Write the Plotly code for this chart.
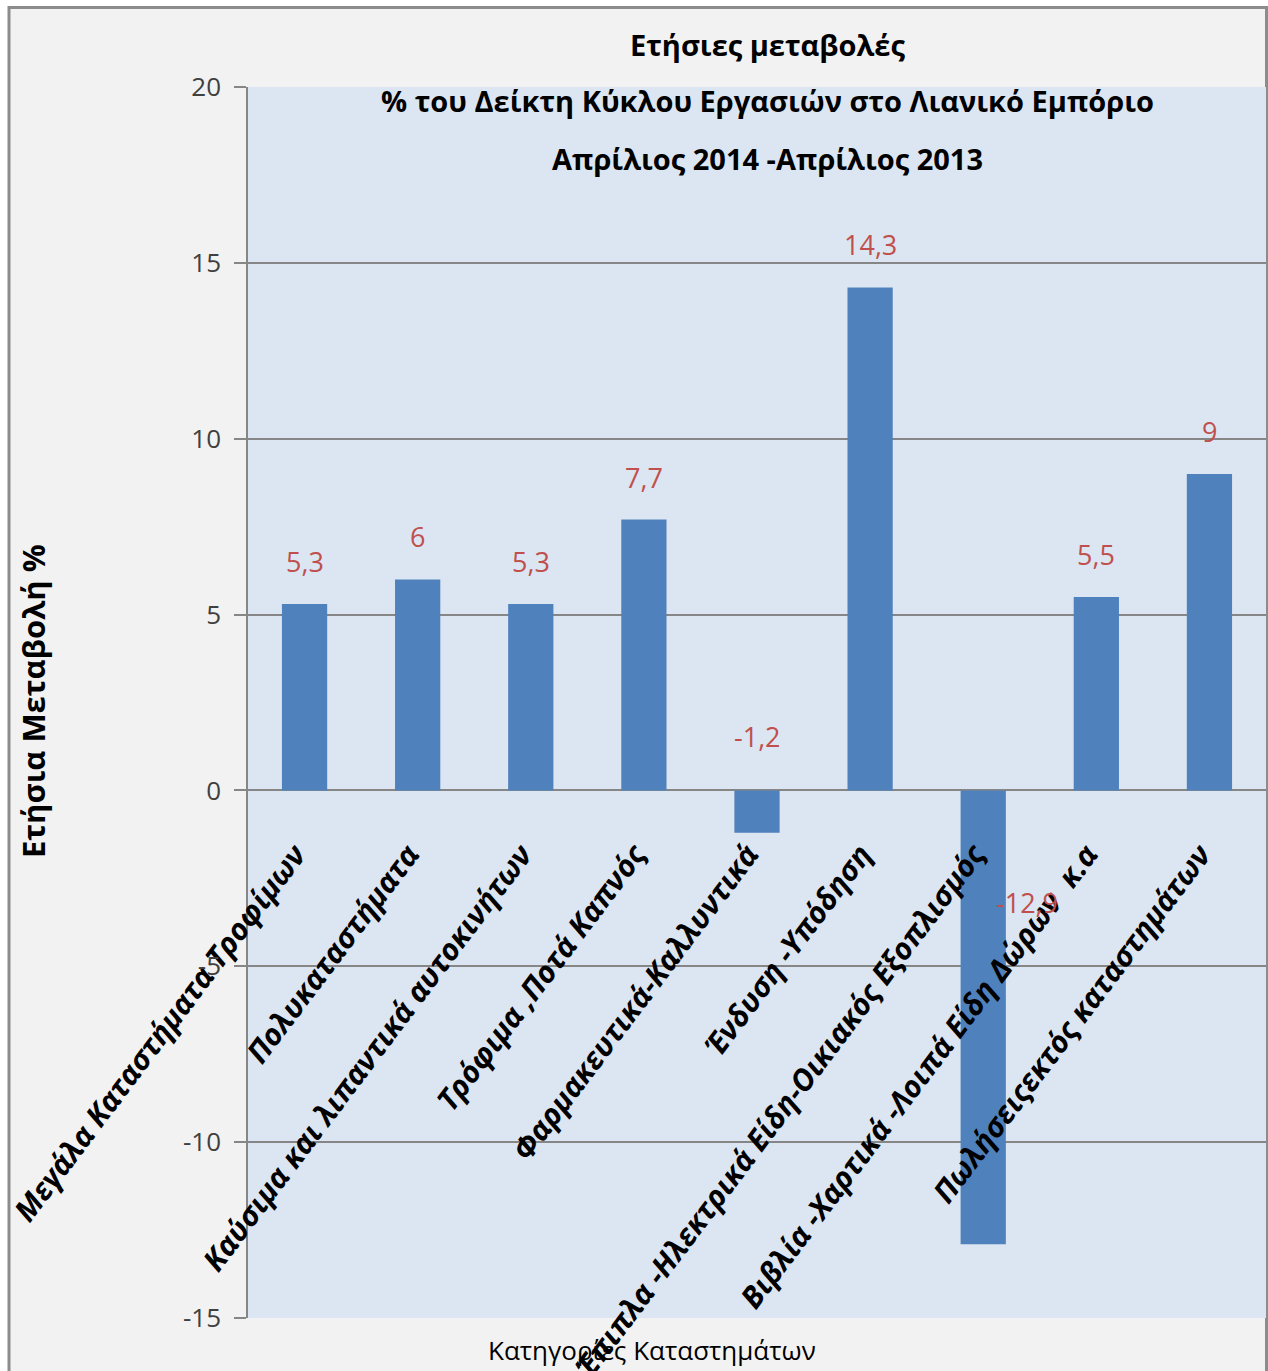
import plotly.graph_objects as go

categories = [
    "Μεγάλα Καταστήματα Τροφίμων",
    "Πολυκαταστήματα",
    "Καύσιμα και λιπαντικά αυτοκινήτων",
    "Τρόφιμα ,Ποτά Καπνός",
    "Φαρμακευτικά-Καλλυντικά",
    "Ένδυση -Υπόδηση",
    "Έπιπλα -Ηλεκτρικά Είδη-Οικιακός Εξοπλισμός",
    "Βιβλία -Χαρτικά -Λοιπά Είδη Δώρων  κ.α",
    "Πωλήσειςεκτός καταστημάτων",
]
values = [5.3, 6, 5.3, 7.7, -1.2, 14.3, -12.9, 5.5, 9]
y_tick_vals = [-15, -10, -5, 0, 5, 10, 15, 20]
y_tick_text = ["-15", "-10", "-5", "0", "5", "10", "15", "20"]
title_lines = [
    "Ετήσιες μεταβολές",
    "% του Δείκτη Κύκλου Εργασιών στο Λιανικό Εμπόριο",
    "Απρίλιος 2014 -Απρίλιος 2013",
]
y_title = "Ετήσια Μεταβολή %"
x_title = "Κατηγορίες Καταστημάτων"

FONT = "Open Sans, sans-serif"
W, H = 1268, 1371
ML, MR, MT, MB = 248, 2, 87, 53
YMIN, YMAX = -15, 20
plot_h = H - MT - MB
plot_w = W - ML - MR


def fmt(v):
    return ("%g" % v).replace(".", ",")


def px_x(p):
    return (p - ML) / plot_w


def px_y(p):
    return (H - MB - p) / plot_h


fig = go.Figure()
fig.add_trace(go.Bar(
    x=list(range(len(categories))), y=values,
    marker=dict(color="#4f81bd", line=dict(width=0)),
    width=0.4, showlegend=False, hoverinfo="skip",
))

LBL = dict(family=FONT, size=27, color="#c0504d")
annotations = []
for i, v in enumerate(values):
    if v >= 0:
        annotations.append(dict(x=i, y=v, xref="x", yref="y", text=fmt(v),
                                showarrow=False, yanchor="bottom", yshift=22, font=LBL))
    elif v > -5:
        annotations.append(dict(x=i, y=0, xref="x", yref="y", text=fmt(v),
                                showarrow=False, yanchor="middle", yshift=54, font=LBL))
    else:
        annotations.append(dict(x=i, y=0, xref="x", yref="y", text=fmt(v),
                                showarrow=False, yanchor="middle", yshift=-112, xshift=44,
                                font=LBL))

title_y_px = [45, 100, 158]
for t, ypx in zip(title_lines, title_y_px):
    annotations.append(dict(x=px_x(767), y=px_y(ypx),
                            xref="paper", yref="paper", text="<b>" + t + "</b>",
                            showarrow=False, xanchor="center", yanchor="middle",
                            font=dict(family=FONT, size=29, color="#000000")))

annotations.append(dict(x=px_x(652), y=px_y(1350),
                        xref="paper", yref="paper", text=x_title, showarrow=False,
                        xanchor="center", yanchor="middle",
                        font=dict(family=FONT, size=26, color="#000000")))

annotations.append(dict(x=px_x(33), y=px_y(701),
                        xref="paper", yref="paper", text="<b>" + y_title + "</b>",
                        showarrow=False, xanchor="center", yanchor="middle", textangle=-90,
                        font=dict(family=FONT, size=31, color="#000000")))

# x axis labels placed just below zero line
label_val = -1.12
xpos = (label_val - YMIN) / (YMAX - YMIN)

fig.update_layout(
    width=W, height=H,
    margin=dict(l=ML, r=MR, t=MT, b=MB),
    paper_bgcolor="#ffffff",
    plot_bgcolor="rgba(0,0,0,0)",
    xaxis=dict(
        type="linear", range=[-0.5, 8.5],
        tickmode="array", tickvals=list(range(len(categories))), ticktext=categories,
        tickangle=-53, anchor="free", position=xpos, automargin=False,
        ticklabelshift=-9,
        showline=False, showgrid=False, zeroline=False, ticks="",
        tickfont=dict(family=FONT, size=30, color="#000000", weight="bold", style="italic"),
    ),
    yaxis=dict(
        range=[YMIN, YMAX], tickmode="array", tickvals=y_tick_vals, ticktext=y_tick_text,
        showgrid=True, gridcolor="#868686", gridwidth=1.5,
        zeroline=False,
        showline=True, linecolor="#868686", linewidth=1.5,
        ticks="outside", ticklen=12, tickcolor="#868686", tickwidth=1.5,
        ticklabelstandoff=8,
        tickfont=dict(family=FONT, size=26, color="#404040"),
        automargin=False,
    ),
    annotations=annotations,
    shapes=[
        dict(type="rect", xref="paper", yref="paper",
             x0=px_x(9), x1=px_x(1266.5), y0=px_y(H + 20), y1=px_y(7.5),
             fillcolor="#f2f2f2", line=dict(color="#8c8c8c", width=3), layer="below"),
        dict(type="rect", xref="paper", yref="paper",
             x0=0, x1=1, y0=0, y1=1,
             fillcolor="#dce6f2", line=dict(width=0), layer="below"),
    ],
)

fig.write_html("out.html", config={"displayModeBar": False},
               post_script="document.body.style.margin='0';")
